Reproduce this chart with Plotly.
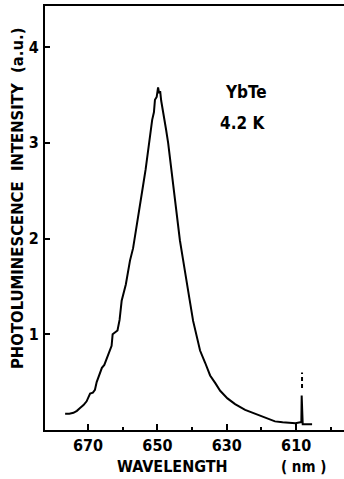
import plotly.graph_objects as go

# Spectrum (wavelength nm, intensity a.u.)
wavelength = [676.6, 675.4, 674.2, 673.2, 672.3, 671.3, 670.4, 669.4, 668.6, 668.0, 667.5, 667.0,
              666.0, 665.3, 664.6, 663.6, 663.2, 662.9, 661.5, 660.9, 660.3, 659.1, 657.9, 657.0,
              655.9, 655.0, 654.1, 653.4, 652.7, 652.1, 651.5, 651.0, 650.7, 650.2, 649.8, 649.5,
              649.2, 648.9, 648.7, 648.1, 647.5, 646.9, 646.3, 645.6, 644.9, 644.2, 643.5, 642.6,
              641.7, 640.7, 639.7, 638.7, 637.7, 636.2, 634.8, 633.3, 631.9, 629.8, 627.6, 624.7,
              621.8, 619.0, 616.1, 613.9, 611.7, 610.2, 608.8, 608.5, 608.4, 608.3, 608.1, 606.8,
              605.4]
intensity = [0.17, 0.17, 0.18, 0.20, 0.23, 0.26, 0.30, 0.38, 0.39, 0.42, 0.50, 0.55,
             0.65, 0.68, 0.74, 0.83, 0.88, 1.00, 1.04, 1.15, 1.35, 1.52, 1.77, 1.90,
             2.14, 2.32, 2.56, 2.72, 2.93, 3.05, 3.24, 3.32, 3.45, 3.48, 3.58, 3.52,
             3.54, 3.44, 3.40, 3.30, 3.14, 3.00, 2.82, 2.64, 2.40, 2.20, 1.98, 1.78,
             1.56, 1.36, 1.14, 0.98, 0.83, 0.70, 0.57, 0.49, 0.41, 0.33, 0.27, 0.21,
             0.17, 0.13, 0.09, 0.08, 0.07, 0.07, 0.08, 0.08, 0.36, 0.06, 0.06, 0.06,
             0.06]

# dashed upper part of the sharp line near 608 nm
spike_wl = [608.3, 608.3]
spike_top = [0.44, 0.60]

y_ticks = [1, 2, 3, 4]
x_major = [670, 650, 630, 610]
x_labels = ["670", "650", "630", "610"]

FONT = "DejaVu Sans Condensed, Liberation Sans Narrow, Arial Narrow, sans-serif"

fig = go.Figure()
fig.add_trace(go.Scatter(x=wavelength, y=intensity, mode="lines",
                         line=dict(color="black", width=2), showlegend=False))
fig.add_trace(go.Scatter(x=spike_wl, y=spike_top, mode="lines",
                         line=dict(color="black", width=2, dash="4px,3px"), showlegend=False))

fig.update_layout(
    width=344, height=479,
    margin=dict(l=45, r=0, t=6, b=49),
    plot_bgcolor="white", paper_bgcolor="white",
    font=dict(family=FONT, color="black", size=15, weight="bold"),
    xaxis=dict(range=[682.4, 596.2], tickvals=x_major, ticktext=x_labels,
               ticks="inside", ticklen=6, tickwidth=2, tickcolor="black",
               minor=dict(tickvals=[660, 640, 620, 600], ticks="inside", ticklen=3,
                          tickwidth=1.5, tickcolor="black"),
               showline=True, linewidth=2, linecolor="black", mirror=True,
               showgrid=False, zeroline=False,
               tickfont=dict(family=FONT, size=16, weight="bold")),
    yaxis=dict(range=[0, 4.43], tickvals=y_ticks,
               ticks="inside", ticklen=5, tickwidth=1.5, tickcolor="black",
               showline=True, linewidth=2, linecolor="black",
               showgrid=False, zeroline=False, ticklabelstandoff=1,
               tickfont=dict(family=FONT, size=16, weight="bold")),
)

fig.add_annotation(text="PHOTOLUMINESCENCE  INTENSITY  (a.u.)", textangle=-90,
                   xref="paper", yref="paper", x=-0.09, y=0.545,
                   xanchor="center", yanchor="middle", showarrow=False,
                   font=dict(family=FONT, size=16.5, weight="bold"))
fig.add_annotation(text="WAVELENGTH", xref="paper", yref="paper", x=0.425, y=-0.085,
                   xanchor="center", yanchor="middle", showarrow=False,
                   font=dict(family=FONT, size=16, weight="bold"))
fig.add_annotation(text="( nm )", xref="paper", yref="paper", x=0.865, y=-0.088,
                   xanchor="center", yanchor="middle", showarrow=False,
                   font=dict(family=FONT, size=15, weight="bold"))
fig.add_annotation(text="YbTe", xref="paper", yref="paper", x=0.672, y=0.797,
                   xanchor="center", yanchor="middle", showarrow=False,
                   font=dict(family=FONT, size=17, weight="bold"))
fig.add_annotation(text="4.2 K", xref="paper", yref="paper", x=0.659, y=0.724,
                   xanchor="center", yanchor="middle", showarrow=False,
                   font=dict(family=FONT, size=17, weight="bold"))

fig.write_html("out.html")
